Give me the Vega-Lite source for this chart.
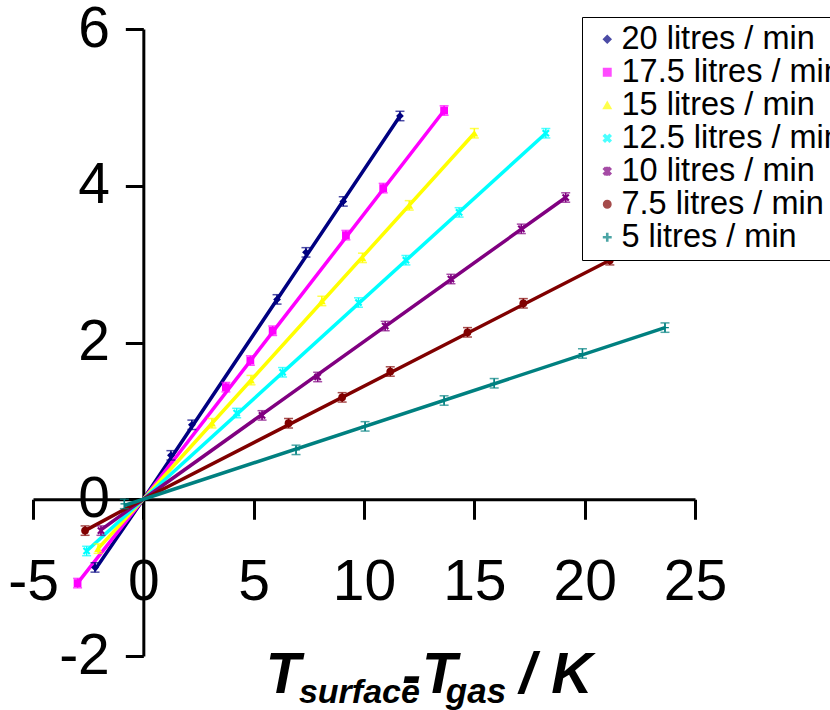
{
  "$schema": "https://vega.github.io/schema/vega-lite/v6.json",
  "width": 662,
  "height": 627,
  "autosize": {"type": "none"},
  "padding": {"left": 33, "top": 29, "right": 135, "bottom": 54},
  "background": "white",
  "config": {
    "view": {"stroke": null},
    "font": "Liberation Sans",
    "axis": {
      "grid": false,
      "domainColor": "black",
      "domainWidth": 3,
      "tickColor": "black",
      "tickWidth": 3,
      "labelColor": "black",
      "labelFont": "Liberation Sans",
      "labelFontSize": 57,
      "labelOverlap": false,
      "labelFlush": false
    },
    "legend": {
      "labelFont": "Liberation Sans",
      "labelFontSize": 32.5,
      "labelColor": "black",
      "labelLimit": 400
    }
  },
  "datasets": {
    "points": [
      {"series": "20 litres / min", "x": -2.19, "y": -0.87, "e": 0.06},
      {"series": "20 litres / min", "x": 1.25, "y": 0.56, "e": 0.06},
      {"series": "20 litres / min", "x": 2.2, "y": 0.95, "e": 0.06},
      {"series": "20 litres / min", "x": 6.06, "y": 2.55, "e": 0.06},
      {"series": "20 litres / min", "x": 7.37, "y": 3.15, "e": 0.06},
      {"series": "20 litres / min", "x": 9.06, "y": 3.8, "e": 0.06},
      {"series": "20 litres / min", "x": 11.63, "y": 4.89, "e": 0.06},
      {"series": "17.5 litres / min", "x": -2.98, "y": -1.07, "e": 0.06},
      {"series": "17.5 litres / min", "x": 3.74, "y": 1.43, "e": 0.06},
      {"series": "17.5 litres / min", "x": 4.85, "y": 1.77, "e": 0.06},
      {"series": "17.5 litres / min", "x": 5.86, "y": 2.15, "e": 0.06},
      {"series": "17.5 litres / min", "x": 9.18, "y": 3.37, "e": 0.06},
      {"series": "17.5 litres / min", "x": 10.87, "y": 3.97, "e": 0.06},
      {"series": "17.5 litres / min", "x": 13.63, "y": 4.96, "e": 0.06},
      {"series": "15 litres / min", "x": -2.05, "y": -0.63, "e": 0.06},
      {"series": "15 litres / min", "x": 3.11, "y": 0.97, "e": 0.06},
      {"series": "15 litres / min", "x": 4.88, "y": 1.52, "e": 0.06},
      {"series": "15 litres / min", "x": 8.09, "y": 2.53, "e": 0.06},
      {"series": "15 litres / min", "x": 9.93, "y": 3.08, "e": 0.06},
      {"series": "15 litres / min", "x": 12.05, "y": 3.75, "e": 0.06},
      {"series": "15 litres / min", "x": 15.0, "y": 4.67, "e": 0.06},
      {"series": "12.5 litres / min", "x": -2.57, "y": -0.66, "e": 0.06},
      {"series": "12.5 litres / min", "x": 4.23, "y": 1.1, "e": 0.06},
      {"series": "12.5 litres / min", "x": 6.31, "y": 1.62, "e": 0.06},
      {"series": "12.5 litres / min", "x": 9.75, "y": 2.51, "e": 0.06},
      {"series": "12.5 litres / min", "x": 11.9, "y": 3.05, "e": 0.06},
      {"series": "12.5 litres / min", "x": 14.31, "y": 3.66, "e": 0.06},
      {"series": "12.5 litres / min", "x": 18.24, "y": 4.67, "e": 0.06},
      {"series": "10 litres / min", "x": -1.92, "y": -0.4, "e": 0.06},
      {"series": "10 litres / min", "x": 5.38, "y": 1.07, "e": 0.06},
      {"series": "10 litres / min", "x": 7.9, "y": 1.56, "e": 0.06},
      {"series": "10 litres / min", "x": 10.96, "y": 2.21, "e": 0.06},
      {"series": "10 litres / min", "x": 13.94, "y": 2.81, "e": 0.06},
      {"series": "10 litres / min", "x": 17.13, "y": 3.45, "e": 0.06},
      {"series": "10 litres / min", "x": 19.14, "y": 3.85, "e": 0.06},
      {"series": "7.5 litres / min", "x": -2.64, "y": -0.4, "e": 0.06},
      {"series": "7.5 litres / min", "x": 6.58, "y": 0.97, "e": 0.06},
      {"series": "7.5 litres / min", "x": 9.01, "y": 1.3, "e": 0.06},
      {"series": "7.5 litres / min", "x": 11.19, "y": 1.63, "e": 0.06},
      {"series": "7.5 litres / min", "x": 14.69, "y": 2.13, "e": 0.06},
      {"series": "7.5 litres / min", "x": 17.22, "y": 2.5, "e": 0.06},
      {"series": "7.5 litres / min", "x": 21.14, "y": 3.05, "e": 0.06},
      {"series": "5 litres / min", "x": -0.86, "y": -0.06, "e": 0.06},
      {"series": "5 litres / min", "x": 6.92, "y": 0.63, "e": 0.06},
      {"series": "5 litres / min", "x": 10.05, "y": 0.93, "e": 0.06},
      {"series": "5 litres / min", "x": 13.63, "y": 1.26, "e": 0.06},
      {"series": "5 litres / min", "x": 15.9, "y": 1.48, "e": 0.06},
      {"series": "5 litres / min", "x": 19.9, "y": 1.86, "e": 0.06},
      {"series": "5 litres / min", "x": 23.64, "y": 2.19, "e": 0.06}
    ],
    "lines": [
      {"series": "20 litres / min", "x": -2.19, "y": -0.9},
      {"series": "20 litres / min", "x": 0, "y": 0},
      {"series": "20 litres / min", "x": 11.63, "y": 4.89},
      {"series": "17.5 litres / min", "x": -2.98, "y": -1.07},
      {"series": "17.5 litres / min", "x": 0, "y": 0},
      {"series": "17.5 litres / min", "x": 13.63, "y": 4.96},
      {"series": "15 litres / min", "x": -2.05, "y": -0.63},
      {"series": "15 litres / min", "x": 0, "y": 0},
      {"series": "15 litres / min", "x": 15.0, "y": 4.67},
      {"series": "12.5 litres / min", "x": -2.57, "y": -0.66},
      {"series": "12.5 litres / min", "x": 0, "y": 0},
      {"series": "12.5 litres / min", "x": 18.24, "y": 4.67},
      {"series": "10 litres / min", "x": -1.92, "y": -0.39},
      {"series": "10 litres / min", "x": 0, "y": 0},
      {"series": "10 litres / min", "x": 19.14, "y": 3.85},
      {"series": "7.5 litres / min", "x": -2.64, "y": -0.4},
      {"series": "7.5 litres / min", "x": 0, "y": 0},
      {"series": "7.5 litres / min", "x": 21.14, "y": 3.05},
      {"series": "5 litres / min", "x": -0.86, "y": -0.08},
      {"series": "5 litres / min", "x": 0, "y": 0},
      {"series": "5 litres / min", "x": 23.64, "y": 2.19}
    ],
    "titleparts": [
      {"t": "T", "part": "a"},
      {"t": "surface", "part": "b"},
      {"t": "-", "part": "c"},
      {"t": "T", "part": "d"},
      {"t": "gas", "part": "e"},
      {"t": "/ K", "part": "f"}
    ]
  },
  "layer": [
    {
      "data": {"name": "lines"},
      "mark": {"type": "line", "strokeWidth": 3.5},
      "encoding": {
        "x": {
          "field": "x", "type": "quantitative", "title": null,
          "scale": {"domain": [-5, 25], "nice": false, "zero": false},
          "axis": {"orient": "bottom", "offset": -156.75, "values": [-5, 0, 5, 10, 15, 20, 25], "tickSize": 20, "labelPadding": 35, "labelExpr": "toString(datum.value)"}
        },
        "y": {
          "field": "y", "type": "quantitative", "title": null,
          "scale": {"domain": [-2, 6], "nice": false, "zero": false},
          "axis": {"orient": "left", "offset": -110.33, "values": [-2, 0, 2, 4, 6], "tickSize": 18, "labelPadding": 16, "labelExpr": "toString(datum.value)"}
        },
        "color": {"field": "series", "type": "nominal",
          "scale": {"domain": ["20 litres / min", "17.5 litres / min", "15 litres / min", "12.5 litres / min", "10 litres / min", "7.5 litres / min", "5 litres / min"],
                    "range": ["#000080", "#FF00FF", "#FFFF00", "#00FFFF", "#800080", "#800000", "#008080"]},
          "legend": {"orient": "none", "legendX": 549, "legendY": -12, "title": null,
            "fillColor": "white", "strokeColor": "black", "padding": 6,
            "symbolOffset": 3, "labelOffset": -2, "symbolSize": 55, "symbolOpacity": 1, "rowPadding": -4}}
      }
    },
    {
      "data": {"name": "points"},
      "mark": {"type": "errorbar", "ticks": {"size": 9}, "thickness": 1.5},
      "encoding": {
        "x": {"field": "x", "type": "quantitative", "title": null},
        "y": {"field": "y", "type": "quantitative", "title": null},
        "yError": {"field": "e"},
        "color": {"field": "series", "type": "nominal"}
      }
    },
    {
      "data": {"name": "points"},
      "mark": {"type": "point", "filled": true, "opacity": 1, "size": 60},
      "encoding": {
        "x": {"field": "x", "type": "quantitative", "title": null},
        "y": {"field": "y", "type": "quantitative", "title": null},
        "color": {"field": "series", "type": "nominal"},
        "shape": {"field": "series", "type": "nominal",
          "scale": {"domain": ["20 litres / min", "17.5 litres / min", "15 litres / min", "12.5 litres / min", "10 litres / min", "7.5 litres / min", "5 litres / min"],
                    "range": ["diamond", "square", "triangle-up",
                              "M-1,-0.6L-0.6,-1L0,-0.4L0.6,-1L1,-0.6L0.4,0L1,0.6L0.6,1L0,0.4L-0.6,1L-1,0.6L-0.4,0Z",
                              "M-1,-0.6L-0.6,-1L0,-0.4L0.6,-1L1,-0.6L0.4,0L1,0.6L0.6,1L0,0.4L-0.6,1L-1,0.6L-0.4,0ZM-0.15,-1L0.15,-1L0.15,1L-0.15,1Z",
                              "circle",
                              "M-1,-0.15L1,-0.15L1,0.15L-1,0.15ZM-0.15,-1L0.15,-1L0.15,1L-0.15,1Z"]}}
      }
    },
    {
      "data": {"name": "titleparts"},
      "transform": [{"filter": "datum.part == 'a'"}],
      "mark": {"type": "text", "fontSize": 57, "fontWeight": "bold", "fontStyle": "italic", "align": "left", "baseline": "alphabetic", "color": "black"},
      "encoding": {"x": {"datum": 5.55}, "y": {"datum": -2.472}, "text": {"field": "t"}}
    },
    {
      "data": {"name": "titleparts"},
      "transform": [{"filter": "datum.part == 'b'"}],
      "mark": {"type": "text", "fontSize": 34, "fontWeight": "bold", "fontStyle": "italic", "align": "left", "baseline": "alphabetic", "color": "black"},
      "encoding": {"x": {"datum": 7.05}, "y": {"datum": -2.6}, "text": {"field": "t"}}
    },
    {
      "data": {"name": "titleparts"},
      "transform": [{"filter": "datum.part == 'c'"}],
      "mark": {"type": "text", "fontSize": 57, "fontWeight": "bold", "fontStyle": "italic", "align": "left", "baseline": "alphabetic", "color": "black"},
      "encoding": {"x": {"datum": 11.72}, "y": {"datum": -2.5}, "text": {"field": "t"}}
    },
    {
      "data": {"name": "titleparts"},
      "transform": [{"filter": "datum.part == 'd'"}],
      "mark": {"type": "text", "fontSize": 57, "fontWeight": "bold", "fontStyle": "italic", "align": "left", "baseline": "alphabetic", "color": "black"},
      "encoding": {"x": {"datum": 12.63}, "y": {"datum": -2.472}, "text": {"field": "t"}}
    },
    {
      "data": {"name": "titleparts"},
      "transform": [{"filter": "datum.part == 'e'"}],
      "mark": {"type": "text", "fontSize": 35, "fontWeight": "bold", "fontStyle": "italic", "align": "left", "baseline": "alphabetic", "color": "black"},
      "encoding": {"x": {"datum": 13.71}, "y": {"datum": -2.6}, "text": {"field": "t"}}
    },
    {
      "data": {"name": "titleparts"},
      "transform": [{"filter": "datum.part == 'f'"}],
      "mark": {"type": "text", "fontSize": 57, "fontWeight": "bold", "fontStyle": "italic", "align": "left", "baseline": "alphabetic", "color": "black"},
      "encoding": {"x": {"datum": 17.05}, "y": {"datum": -2.472}, "text": {"field": "t"}}
    }
  ]
}
